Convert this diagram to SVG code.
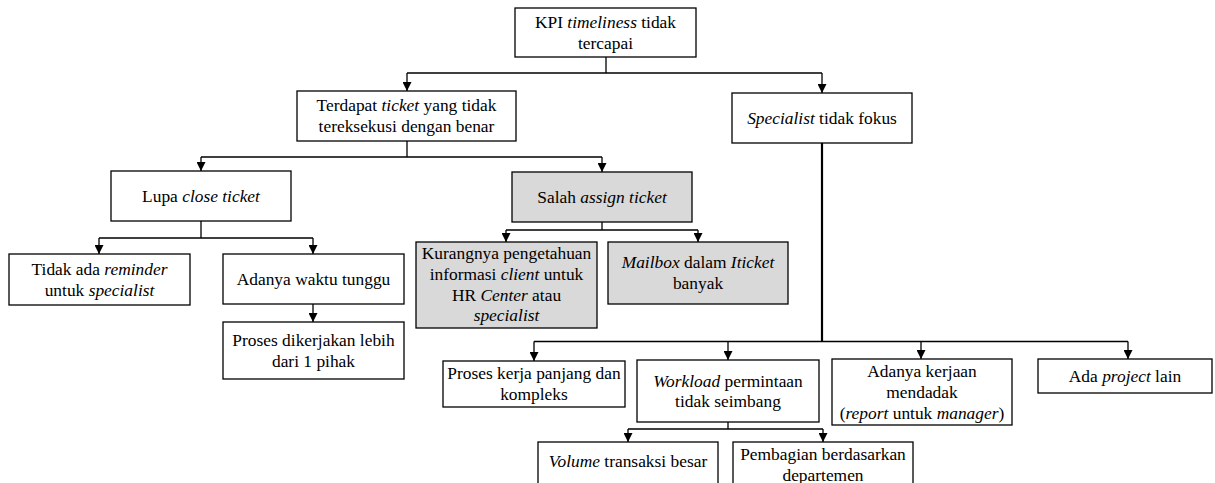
<svg xmlns="http://www.w3.org/2000/svg" width="1215" height="483" viewBox="0 0 1215 483">
<defs>
<marker id="arr" viewBox="0 0 10 10" refX="10" refY="5" markerWidth="9" markerHeight="9" markerUnits="userSpaceOnUse" orient="auto">
<path d="M0,0 L10,5 L0,10 z" fill="#000"/>
</marker>
<style>
.box{fill:#fff;stroke:#000;stroke-width:1.3}
.g{fill:#d9d9d9;stroke:#000;stroke-width:1.3}
.t{font-family:"Liberation Serif","Times New Roman",serif;font-size:17.4px;fill:#000;text-anchor:middle}
.i{font-style:italic}
.ln{fill:none;stroke:#000;stroke-width:1.3}
.arw{fill:none;stroke:#000;stroke-width:1.3;marker-end:url(#arr)}
.thick{fill:none;stroke:#000;stroke-width:2.2}
</style>
</defs>
<rect width="1215" height="483" fill="#fff"/>

<g id="connectors">
<path class="ln" d="M606,57 V73 M407,73 H822"/>
<path class="arw" d="M407,73 V91"/>
<path class="arw" d="M822,73 V93"/>
<path class="ln" d="M407,141 V157 M201,157 H602"/>
<path class="arw" d="M201,157 V171"/>
<path class="arw" d="M602,157 V172"/>
<path class="ln" d="M201,221 V238 M99,238 H313"/>
<path class="arw" d="M99,238 V254"/>
<path class="arw" d="M313,238 V254"/>
<path class="arw" d="M313,304 V322"/>
<path class="ln" d="M602,222 V230 M506,230 H698"/>
<path class="arw" d="M506,230 V242"/>
<path class="arw" d="M698,230 V242"/>
<path class="thick" d="M822,143 V342"/>
<path class="ln" d="M534,341.5 H1128"/>
<path class="arw" d="M534,341.5 V361"/>
<path class="arw" d="M728,341.5 V360"/>
<path class="arw" d="M921,341.5 V359"/>
<path class="arw" d="M1128,341.5 V359"/>
<path class="ln" d="M728,422 V429 M628,429 H823"/>
<path class="arw" d="M628,429 V442"/>
<path class="arw" d="M823,429 V442"/>
</g>

<g id="n-kpi">
<rect class="box" x="515" y="8" width="181" height="49"/>
<text class="t" x="605.5" y="28">KPI <tspan class="i">timeliness</tspan> tidak</text>
<text class="t" x="605.5" y="49">tercapai</text>
</g>

<g id="n-terdapat">
<rect class="box" x="297" y="91" width="219" height="50"/>
<text class="t" x="406.5" y="111">Terdapat <tspan class="i">ticket</tspan> yang tidak</text>
<text class="t" x="406.5" y="132">tereksekusi dengan benar</text>
</g>

<g id="n-specialist">
<rect class="box" x="732" y="93" width="180" height="50"/>
<text class="t" x="822" y="123.5"><tspan class="i">Specialist</tspan> tidak fokus</text>
</g>

<g id="n-lupa">
<rect class="box" x="111" y="171" width="180" height="50"/>
<text class="t" x="201" y="201.5">Lupa <tspan class="i">close ticket</tspan></text>
</g>

<g id="n-salah">
<rect class="g" x="512" y="172" width="180" height="50"/>
<text class="t" x="602" y="202.5">Salah <tspan class="i">assign ticket</tspan></text>
</g>

<g id="n-tidakada">
<rect class="box" x="9" y="254" width="181" height="51"/>
<text class="t" x="99.5" y="275">Tidak ada <tspan class="i">reminder</tspan></text>
<text class="t" x="99.5" y="296">untuk <tspan class="i">specialist</tspan></text>
</g>

<g id="n-adanyawaktu">
<rect class="box" x="223" y="254" width="181" height="50"/>
<text class="t" x="313.5" y="284.5">Adanya waktu tunggu</text>
</g>

<g id="n-prosesdikerjakan">
<rect class="box" x="223" y="322" width="181" height="57"/>
<text class="t" x="313.5" y="346">Proses dikerjakan lebih</text>
<text class="t" x="313.5" y="367">dari 1 pihak</text>
</g>

<g id="n-kurangnya">
<rect class="g" x="416" y="242" width="181" height="86"/>
<text class="t" x="506.5" y="259">Kurangnya pengetahuan</text>
<text class="t" x="506.5" y="280">informasi <tspan class="i">client</tspan> untuk</text>
<text class="t" x="506.5" y="300.5">HR <tspan class="i">Center</tspan> atau</text>
<text class="t" x="506.5" y="321"><tspan class="i">specialist</tspan></text>
</g>

<g id="n-mailbox">
<rect class="g" x="608" y="242" width="180" height="62"/>
<text class="t" x="698" y="268"><tspan class="i">Mailbox</tspan> dalam <tspan class="i">Iticket</tspan></text>
<text class="t" x="698" y="288.5">banyak</text>
</g>

<g id="n-proseskerja">
<rect class="box" x="443" y="361" width="182" height="46"/>
<text class="t" x="534" y="378.5">Proses kerja panjang dan</text>
<text class="t" x="534" y="399.5">kompleks</text>
</g>

<g id="n-workload">
<rect class="box" x="637" y="360" width="182" height="62"/>
<text class="t" x="728" y="386.5"><tspan class="i">Workload</tspan> permintaan</text>
<text class="t" x="728" y="407">tidak seimbang</text>
</g>

<g id="n-adanyakerjaan">
<rect class="box" x="832" y="359" width="180" height="66"/>
<text class="t" x="922" y="377">Adanya kerjaan</text>
<text class="t" x="922" y="397.5">mendadak</text>
<text class="t" x="922" y="418.5">(<tspan class="i">report</tspan> untuk <tspan class="i">manager</tspan>)</text>
</g>

<g id="n-project">
<rect class="box" x="1038" y="359" width="174" height="34"/>
<text class="t" x="1125" y="382">Ada <tspan class="i">project</tspan> lain</text>
</g>

<g id="n-volume">
<rect class="box" x="538" y="442" width="180" height="54"/>
<text class="t" x="628" y="467"><tspan class="i">Volume</tspan> transaksi besar</text>
</g>

<g id="n-pembagian">
<rect class="box" x="733" y="442" width="180" height="54"/>
<text class="t" x="823" y="460">Pembagian berdasarkan</text>
<text class="t" x="823" y="481">departemen</text>
</g>
</svg>
